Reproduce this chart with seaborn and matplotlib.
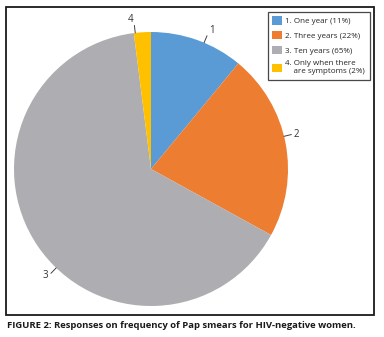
import numpy as np
import matplotlib
matplotlib.use("Agg")
import matplotlib.pyplot as plt
from matplotlib.patches import Rectangle
import seaborn as sns

# responses (percent)
categories = ["1. One year (11%)", "2. Three years (22%)", "3. Ten years (65%)",
              "4. Only when there\n    are symptoms (2%)"]
short_labels = ["1", "2", "3", "4"]
values = [11, 22, 65, 2]
colors = ["#5B9BD5", "#ED7D31", "#AEAEB2", "#FFC000"]
caption = "FIGURE 2: Responses on frequency of Pap smears for HIV-negative women."

sns.set_style("white")
plt.rcParams['font.family'] = ['Open Sans', 'DejaVu Sans']

W, H = 384, 337
fig = plt.figure(figsize=(W / 100, H / 100), dpi=100)

# outer frame
fig.patches.append(Rectangle((6 / W, 1 - 315 / H), 368 / W, 308 / H,
                             transform=fig.transFigure, fill=False,
                             edgecolor="#1a1a1a", linewidth=1.3))

# pie axes: centre (151,169) px, radius 137 px
cx, cy, r = 151, 169, 137
ax = fig.add_axes([(cx - r) / W, 1 - (cy + r) / H, 2 * r / W, 2 * r / H])
wedges, _ = ax.pie(values, colors=colors, startangle=90, counterclock=False,
                   radius=1.0, wedgeprops=dict(linewidth=0))
ax.set_xlim(-1, 1)
ax.set_ylim(-1, 1)
ax.set_aspect("auto")
ax.axis("off")

# leader lines and number labels
angle_shift = [-3, 3, 12, 3]
text_r = [1.1, 1.07, 1.08, 1.1]
for w, lab, da, tr in zip(wedges, short_labels, angle_shift, text_r):
    a = np.deg2rad((w.theta1 + w.theta2) / 2 + da)
    x0, y0 = np.cos(a), np.sin(a)
    x1, y1 = 1.055 * x0, 1.055 * y0
    ax.plot([x0, x1], [y0, y1], color="#404040", lw=0.7, clip_on=False)
    ha = "left" if x0 >= 0.05 else "right"
    ax.text(tr * x0, tr * y0, lab, ha=ha, va="center", fontsize=7,
            color="#333333", clip_on=False)

# legend
leg = fig.legend(wedges, categories, loc="upper left",
                 bbox_to_anchor=(268 / W, 1 - 12 / H), frameon=True,
                 fontsize=5.8, handlelength=1.2, handleheight=1.2,
                 handletextpad=0.4, borderpad=0.55, labelspacing=0.72,
                 fancybox=False, borderaxespad=0)
leg.get_frame().set_edgecolor("#1a1a1a")
leg.get_frame().set_linewidth(0.9)

fig.text(7 / W, 1 - 326 / H, caption, fontsize=6.8, fontweight="bold",
         color="#1a1a1a", va="center", ha="left")

fig.savefig("out.png", dpi=100)
